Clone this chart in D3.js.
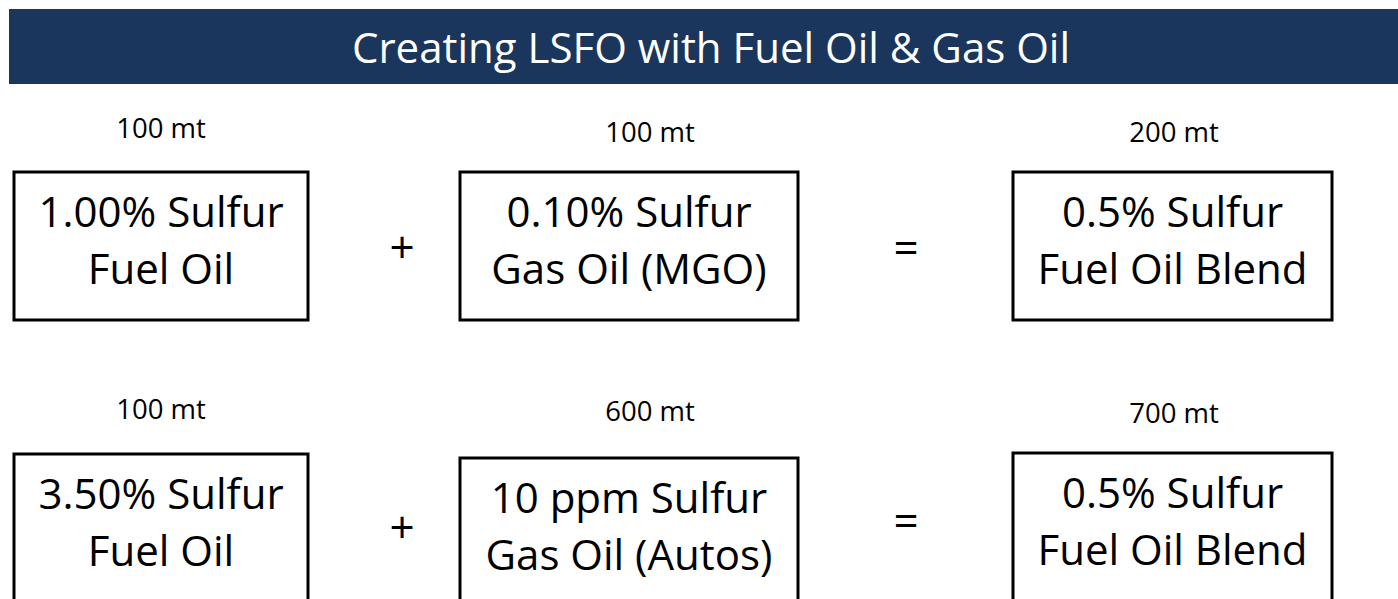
<!DOCTYPE html>
<html>
<head>
<meta charset="utf-8">
<script src="https://cdn.jsdelivr.net/npm/d3@7"></script>
<style>
	body { margin: 0; background: #fff; overflow: hidden; }
	text { font-family: "Open Sans", "Noto Sans", sans-serif; }
</style>
</head>
<body>
<div id="chart"></div>
<script>
// text for the slide
var title = "Creating LSFO with Fuel Oil & Gas Oil";
var massRow1 = ["100 mt", "100 mt", "200 mt"];
var massRow2 = ["100 mt", "600 mt", "700 mt"];
var boxRow1 = [["1.00% Sulfur", "Fuel Oil"], ["0.10% Sulfur", "Gas Oil (MGO)"], ["0.5% Sulfur", "Fuel Oil Blend"]];
var boxRow2 = [["3.50% Sulfur", "Fuel Oil"], ["10 ppm Sulfur", "Gas Oil (Autos)"], ["0.5% Sulfur", "Fuel Oil Blend"]];
var operators = ["+", "="];

var width = 1398, height = 599;

// layout of the three columns
var boxX = [14, 460, 1013];
var boxW = [294, 338, 319];
var boxH = 148;
var labelX = [161, 650, 1174];
var opX = [402, 906];

var rows = [
	{mass: massRow1, boxes: boxRow1, top: [172, 172, 172], labelY: [138, 142, 142], opY: [263, 264]},
	{mass: massRow2, boxes: boxRow2, top: [454, 458, 453], labelY: [419, 421, 423], opY: [543, 537]}
];

var svg = d3.select("#chart")
	.append("svg")
	.attr("width", width)
	.attr("height", height);

// title bar
svg.append("rect")
	.attr("x", 9)
	.attr("y", 9)
	.attr("width", width - 9)
	.attr("height", 75)
	.style("fill", "#1a365d");

svg.append("text")
	.attr("x", 711)
	.attr("y", 63)
	.attr("text-anchor", "middle")
	.style("fill", "#fff")
	.style("font-size", "42px")
	.text(title);

var row = svg.selectAll(".row")
	.data(rows)
	.enter().append("g")
	.attr("class", "row");

row.each(function(r) {
	var g = d3.select(this);

	g.selectAll(".mass")
		.data(r.mass)
		.enter().append("text")
		.attr("class", "mass")
		.attr("x", function(d, i) { return labelX[i]; })
		.attr("y", function(d, i) { return r.labelY[i]; })
		.attr("text-anchor", "middle")
		.style("font-size", "27.5px")
		.style("fill", "#000")
		.text(function(d) { return d; });

	g.selectAll(".box")
		.data(r.boxes)
		.enter().append("rect")
		.attr("class", "box")
		.attr("x", function(d, i) { return boxX[i]; })
		.attr("y", function(d, i) { return r.top[i]; })
		.attr("width", function(d, i) { return boxW[i]; })
		.attr("height", boxH)
		.style("fill", "#fff")
		.style("stroke", "#000")
		.style("stroke-width", 3);

	// two lines of text in each box
	g.selectAll(".boxText")
		.data(r.boxes)
		.enter().append("text")
		.attr("class", "boxText")
		.attr("text-anchor", "middle")
		.style("font-size", "42px")
		.style("fill", "#000")
		.each(function(d, i) {
			var t = d3.select(this);
			d.forEach(function(line, j) {
				t.append("tspan")
					.attr("x", boxX[i] + boxW[i] / 2)
					.attr("y", r.top[i] + 55 + j * 57)
					.text(line);
			});
		});

	g.selectAll(".op")
		.data(operators)
		.enter().append("text")
		.attr("class", "op")
		.attr("x", function(d, i) { return opX[i]; })
		.attr("y", function(d, i) { return r.opY[i]; })
		.attr("text-anchor", "middle")
		.style("font-size", "44px")
		.style("fill", "#000")
		.text(function(d) { return d; });
});
</script>
</body>
</html>
